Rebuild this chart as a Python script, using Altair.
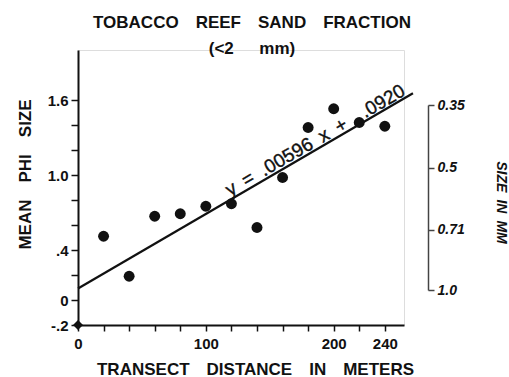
import altair as alt
import pandas as pd

# --- data ---
distance_m = [20, 40, 60, 80, 100, 120, 140, 160, 180, 200, 220, 240]
mean_phi = [0.51, 0.19, 0.67, 0.69, 0.75, 0.77, 0.58, 0.98, 1.38, 1.53, 1.42, 1.39]
origin_x = [0]
origin_y = [-0.2]

SLOPE = 0.00596
INTERCEPT = 0.0920
line_x = [0, 262]

x_ticks = [0, 20, 40, 60, 80, 100, 120, 140, 160, 180, 200, 220, 240]
x_labeled = [0, 100, 200, 240]
y_ticks = [-0.2, 0.0, 0.2, 0.4, 0.6, 0.8, 1.0, 1.2, 1.4, 1.6]
y_labeled = [-0.2, 0.0, 0.4, 1.0, 1.6]
y_label_text = ["-.2", "0", ".4", "1.0", "1.6"]
mm_ticks = [0.35, 0.5, 0.71, 1.0]
mm_label_text = ["0.35", "0.5", "0.71", "1.0"]

EM = "\u2003"
EN = "\u2002"
eq_text = ["y" + EN + "=" + EN + ".00596" + EN + "x" + EN + "+" + EM + ".0920"]
eq_x = [120]

FONT = "Liberation Sans"
INK = "#111111"

pts = pd.DataFrame({"d": distance_m, "phi": mean_phi})
org = pd.DataFrame({"d": origin_x, "phi": origin_y})
ln = pd.DataFrame({"d": line_x, "phi": [SLOPE * v + INTERCEPT for v in line_x]})
eq = pd.DataFrame({"d": eq_x, "phi": [SLOPE * v + INTERCEPT for v in eq_x], "t": eq_text})
mm = pd.DataFrame({"mm": mm_ticks, "d": [0] * len(mm_ticks)})

x_lab_expr = " : ".join(f"abs(datum.value - {v}) < 0.5 ? '{v}'" for v in x_labeled) + " : ''"
y_lab_expr = " : ".join(
    f"abs(datum.value - ({v})) < 0.01 ? '{t}'" for v, t in zip(y_labeled, y_label_text)
) + " : ''"
mm_lab_expr = " : ".join(
    f"abs(datum.value - {v}) < 0.001 ? '{t}'" for v, t in zip(mm_ticks, mm_label_text)
) + " : ''"

xscale = alt.Scale(domain=[0, 255], nice=False, zero=False)
yscale = alt.Scale(domain=[-0.2, 2.0], nice=False, zero=False)

xaxis = alt.Axis(
    values=x_ticks, labelExpr=x_lab_expr,
    title="TRANSECT" + EM + "DISTANCE" + EM + "IN" + EM + "METERS",
    grid=False, domainColor=INK, domainWidth=2, tickColor=INK, tickWidth=1.5, tickSize=6,
    labelFont=FONT, labelFontSize=15, labelFontWeight="bold", labelColor=INK, labelPadding=5,
    labelOverlap=False, labelFlush=False, labelBound=False,
    titleFont=FONT, titleFontSize=17, titleFontWeight="bold", titleColor=INK,
    titleX=177, titleY=49, titleAlign="center", titleBaseline="alphabetic",
)
yaxis = alt.Axis(
    values=y_ticks, labelExpr=y_lab_expr,
    title="MEAN" + EM + "PHI" + EM + "SIZE",
    grid=False, domainColor=INK, domainWidth=2, tickColor=INK, tickWidth=1.5, tickSize=7,
    labelFont=FONT, labelFontSize=15, labelFontWeight="bold", labelColor=INK, labelPadding=3,
    labelOverlap=False, labelFlush=False, labelBound=False,
    titleFont=FONT, titleFontSize=17, titleFontWeight="bold", titleColor=INK,
    titleAngle=-90, titleX=-53, titleY=124, titleBaseline="middle", titleAlign="center",
)

base_x = alt.X("d:Q", scale=xscale, axis=xaxis)

points = alt.Chart(pts).mark_circle(size=120, color=INK, opacity=1).encode(
    x=base_x, y=alt.Y("phi:Q", scale=yscale, axis=yaxis)
)
origin = alt.Chart(org).mark_square(size=50, color=INK, opacity=1, angle=45, filled=True).encode(
    x=alt.X("d:Q", scale=xscale, axis=xaxis), y=alt.Y("phi:Q", scale=yscale, axis=yaxis)
)
reg = alt.Chart(ln).mark_line(color=INK, strokeWidth=2.2).encode(
    x=alt.X("d:Q", scale=xscale, axis=xaxis), y=alt.Y("phi:Q", scale=yscale, axis=yaxis)
)
eqt = alt.Chart(eq).mark_text(
    font=FONT, fontSize=19, color=INK, angle=330, align="left", baseline="alphabetic", dy=-3,
    stroke=INK, strokeWidth=0.4,
).encode(
    x=alt.X("d:Q", scale=xscale, axis=xaxis),
    y=alt.Y("phi:Q", scale=yscale, axis=yaxis),
    text="t:N",
)

left = alt.layer(points, origin, reg, eqt)

right = alt.Chart(mm).mark_point(opacity=0).encode(
    x=alt.X("d:Q", scale=xscale, axis=xaxis),
    y=alt.Y(
        "mm:Q",
        scale=alt.Scale(type="log", domain=[0.35, 1.0], range=[55, 240], nice=False, zero=False),
        axis=alt.Axis(
            orient="right", offset=24, values=mm_ticks, labelExpr=mm_lab_expr,
            title="SIZE" + EN + "IN" + EN + "MM", grid=False,
            domainColor="#444444", domainWidth=1.5, tickColor="#444444", tickWidth=1.5, tickSize=6,
            labelFont=FONT, labelFontSize=14, labelFontWeight="bold", labelFontStyle="italic",
            labelColor=INK, labelPadding=3, labelFlush=False, labelOverlap=False, labelBound=False,
            titleFont=FONT, titleFontSize=14, titleFontWeight="bold", titleFontStyle="italic",
            titleColor=INK, titleAngle=90, titleX=72, titleY=152, titleBaseline="middle",
            titleAlign="center",
        ),
    ),
)

chart = (
    alt.layer(left, right)
    .resolve_scale(y="independent")
    .properties(
        width=326,
        height=275,
        autosize=alt.AutoSizeParams(type="none"),
        padding={"left": 78, "top": 50, "right": 105, "bottom": 52},
        title=alt.TitleParams(
            text=["TOBACCO" + EM + "REEF" + EM + "SAND" + EM + "FRACTION",
                  EN + "(<2" + EM + EN + "mm)"],
            font=FONT, fontSize=17, fontWeight="bold", color=INK,
            anchor="middle", dx=11, lineHeight=26, offset=-8,
        ),
    )
    .configure_axis(labelOverlap=False)
    .configure_view(stroke=None)
    .configure(background="white")
)

chart.save("out.html", embed_options={"renderer": "svg", "actions": False})
